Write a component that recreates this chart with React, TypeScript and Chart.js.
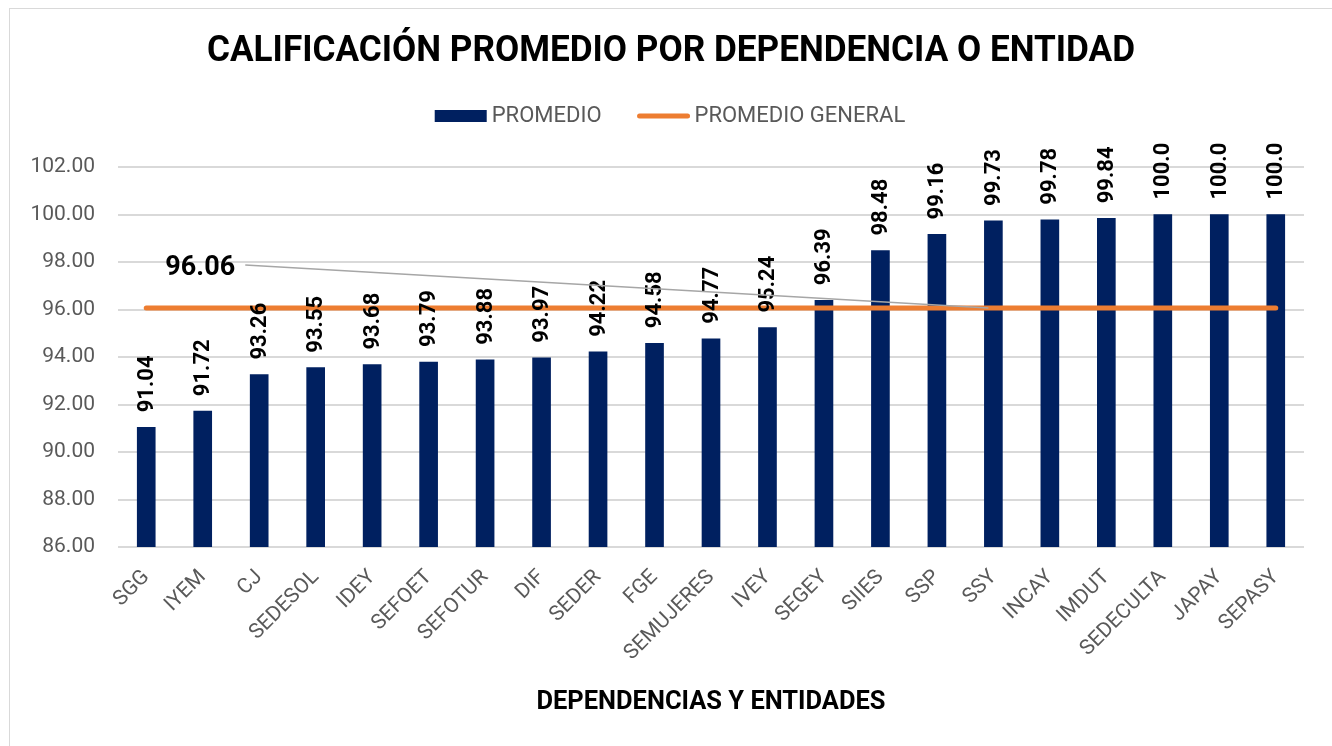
import React, { useEffect, useRef } from "react";
import { Chart, registerables } from "chart.js";

Chart.register(...registerables);

const categories = [
  "SGG", "IYEM", "CJ", "SEDESOL", "IDEY", "SEFOET", "SEFOTUR", "DIF", "SEDER", "FGE",
  "SEMUJERES", "IVEY", "SEGEY", "SIIES", "SSP", "SSY", "INCAY", "IMDUT", "SEDECULTA", "JAPAY", "SEPASY",
];
const promedio = [
  91.04, 91.72, 93.26, 93.55, 93.68, 93.79, 93.88, 93.97, 94.22, 94.58,
  94.77, 95.24, 96.39, 98.48, 99.16, 99.73, 99.78, 99.84, 100, 100, 100,
];
const promedioLabels = [
  "91.04", "91.72", "93.26", "93.55", "93.68", "93.79", "93.88", "93.97", "94.22", "94.58",
  "94.77", "95.24", "96.39", "98.48", "99.16", "99.73", "99.78", "99.84", "100.0", "100.0", "100.0",
];
const promedioGeneral = [
  96.06, 96.06, 96.06, 96.06, 96.06, 96.06, 96.06, 96.06, 96.06, 96.06,
  96.06, 96.06, 96.06, 96.06, 96.06, 96.06, 96.06, 96.06, 96.06, 96.06, 96.06,
];
const generalLabel = "96.06";
const generalLabelIndex = 15;
const yMin = 86;
const yMax = 102;
const yStep = 2;

const TITLE = "CALIFICACIÓN PROMEDIO POR DEPENDENCIA O ENTIDAD";
const X_TITLE = "DEPENDENCIAS Y ENTIDADES";
const FONT = "Roboto";
const NAVY = "#002060";
const ORANGE = "#ED7D31";
const GRAY_TEXT = "#595959";

function drawCondensed(ctx: CanvasRenderingContext2D, text: string, cx: number, cy: number, font: string, targetW: number) {
  ctx.save();
  ctx.font = font;
  const w = ctx.measureText(text).width;
  const s = targetW / w;
  ctx.translate(cx, cy);
  ctx.scale(s, 1);
  ctx.textAlign = "center";
  ctx.textBaseline = "middle";
  ctx.fillStyle = "#000";
  ctx.fillText(text, 0, 0);
  ctx.restore();
}

const decorPlugin = {
  id: "decor",
  afterDraw(chart: any) {
    const ctx: CanvasRenderingContext2D = chart.ctx;
    const area = chart.chartArea;
    // Title
    drawCondensed(ctx, TITLE, 671, 52, `bold 36px ${FONT}`, 928);
    // X axis title
    drawCondensed(ctx, X_TITLE, (area.left + area.right) / 2, 703, `bold 25px ${FONT}`, 349);

    // Legend
    const ds = chart.data.datasets;
    ctx.save();
    ctx.font = `22px ${FONT}`;
    ctx.textBaseline = "middle";
    ctx.textAlign = "left";
    const sw = 52;
    const gap = 5;
    const spacing = 36;
    const t1 = ctx.measureText(ds[0].label).width;
    const t2 = ctx.measureText(ds[1].label).width;
    const total = sw + gap + t1 + spacing + sw + gap + t2;
    let x = 670 - total / 2;
    const ly = 116;
    ctx.fillStyle = NAVY;
    ctx.fillRect(x, ly - 6, sw, 12);
    x += sw + gap;
    ctx.fillStyle = GRAY_TEXT;
    ctx.fillText(ds[0].label, x, ly);
    x += t1 + spacing;
    ctx.strokeStyle = ORANGE;
    ctx.lineWidth = 5;
    ctx.lineCap = "round";
    ctx.beginPath();
    ctx.moveTo(x + 2, ly);
    ctx.lineTo(x + sw - 2, ly);
    ctx.stroke();
    x += sw + gap;
    ctx.fillText(ds[1].label, x, ly);
    ctx.restore();

    // Bar value labels
    const meta0 = chart.getDatasetMeta(0);
    ctx.save();
    ctx.font = `bold 22px ${FONT}`;
    ctx.fillStyle = "#000";
    ctx.textAlign = "left";
    ctx.textBaseline = "middle";
    meta0.data.forEach((bar: any, i: number) => {
      ctx.save();
      ctx.translate(bar.x, bar.y - 15);
      ctx.rotate(-Math.PI / 2);
      ctx.fillText(promedioLabels[i], 0, 1);
      ctx.restore();
    });
    ctx.restore();

    // General average label with leader line
    const meta1 = chart.getDatasetMeta(1);
    const pt = meta1.data[generalLabelIndex];
    const first = meta1.data[0];
    const lx = first.x + 54;
    const lyy = chart.scales.y.getPixelForValue(promedioGeneral[0]) - 40;
    ctx.save();
    ctx.strokeStyle = "#A6A6A6";
    ctx.lineWidth = 1.5;
    ctx.beginPath();
    ctx.moveTo(lx + 45, lyy - 3);
    ctx.lineTo(pt.x - 5, pt.y);
    ctx.stroke();
    ctx.font = `bold 27px ${FONT}`;
    ctx.fillStyle = "#000";
    ctx.textAlign = "center";
    ctx.textBaseline = "middle";
    ctx.fillText(generalLabel, lx, lyy);
    ctx.restore();
  },
};

export default function App() {
  const ref = useRef<HTMLCanvasElement | null>(null);
  useEffect(() => {
    document.body.style.margin = "0";
    const canvas = ref.current!;
    const chart = new Chart(canvas, {
      type: "bar",
      data: {
        labels: categories,
        datasets: [
          {
            type: "bar",
            label: "PROMEDIO",
            data: promedio,
            backgroundColor: NAVY,
            borderWidth: 0,
            barThickness: 18,
            order: 2,
          },
          {
            type: "line",
            label: "PROMEDIO GENERAL",
            data: promedioGeneral,
            borderColor: ORANGE,
            backgroundColor: ORANGE,
            borderWidth: 5,
            borderCapStyle: "round",
            pointRadius: 0,
            order: 1,
          } as any,
        ],
      },
      options: {
        responsive: false,
        animation: false,
        layout: { padding: { top: 167, right: 28, left: 0, bottom: 0 } },
        plugins: {
          legend: { display: false },
          title: { display: false },
          tooltip: { enabled: false },
        },
        scales: {
          x: {
            grid: { display: false },
            border: { display: false },
            ticks: {
              color: GRAY_TEXT,
              font: { family: FONT, size: 21 },
              minRotation: 45,
              maxRotation: 45,
              padding: 10,
              autoSkip: false,
            },
            afterFit: (s: any) => {
              s.height = 746 - 547;
            },
          },
          y: {
            min: yMin,
            max: yMax,
            grid: { color: "#D9D9D9", lineWidth: 2, drawTicks: false },
            border: { display: false },
            ticks: {
              stepSize: yStep,
              color: GRAY_TEXT,
              font: { family: FONT, size: 21 },
              padding: 23,
              callback: (v: any) => Number(v).toFixed(2),
            },
            afterFit: (s: any) => {
              s.width = 118;
            },
          },
        },
      },
      plugins: [decorPlugin],
    });
    return () => chart.destroy();
  }, []);
  return (
    <div style={{ position: "absolute", left: 0, top: 0, width: 1332, height: 746, background: "#fff" }}>
      <div
        style={{
          position: "absolute",
          left: 9,
          top: 8,
          width: 1340,
          height: 760,
          border: "1.5px solid #D9D9D9",
          boxSizing: "border-box",
        }}
      />
      <canvas ref={ref} width={1332} height={746} style={{ position: "absolute", left: 0, top: 0, width: 1332, height: 746 }} />
    </div>
  );
}
